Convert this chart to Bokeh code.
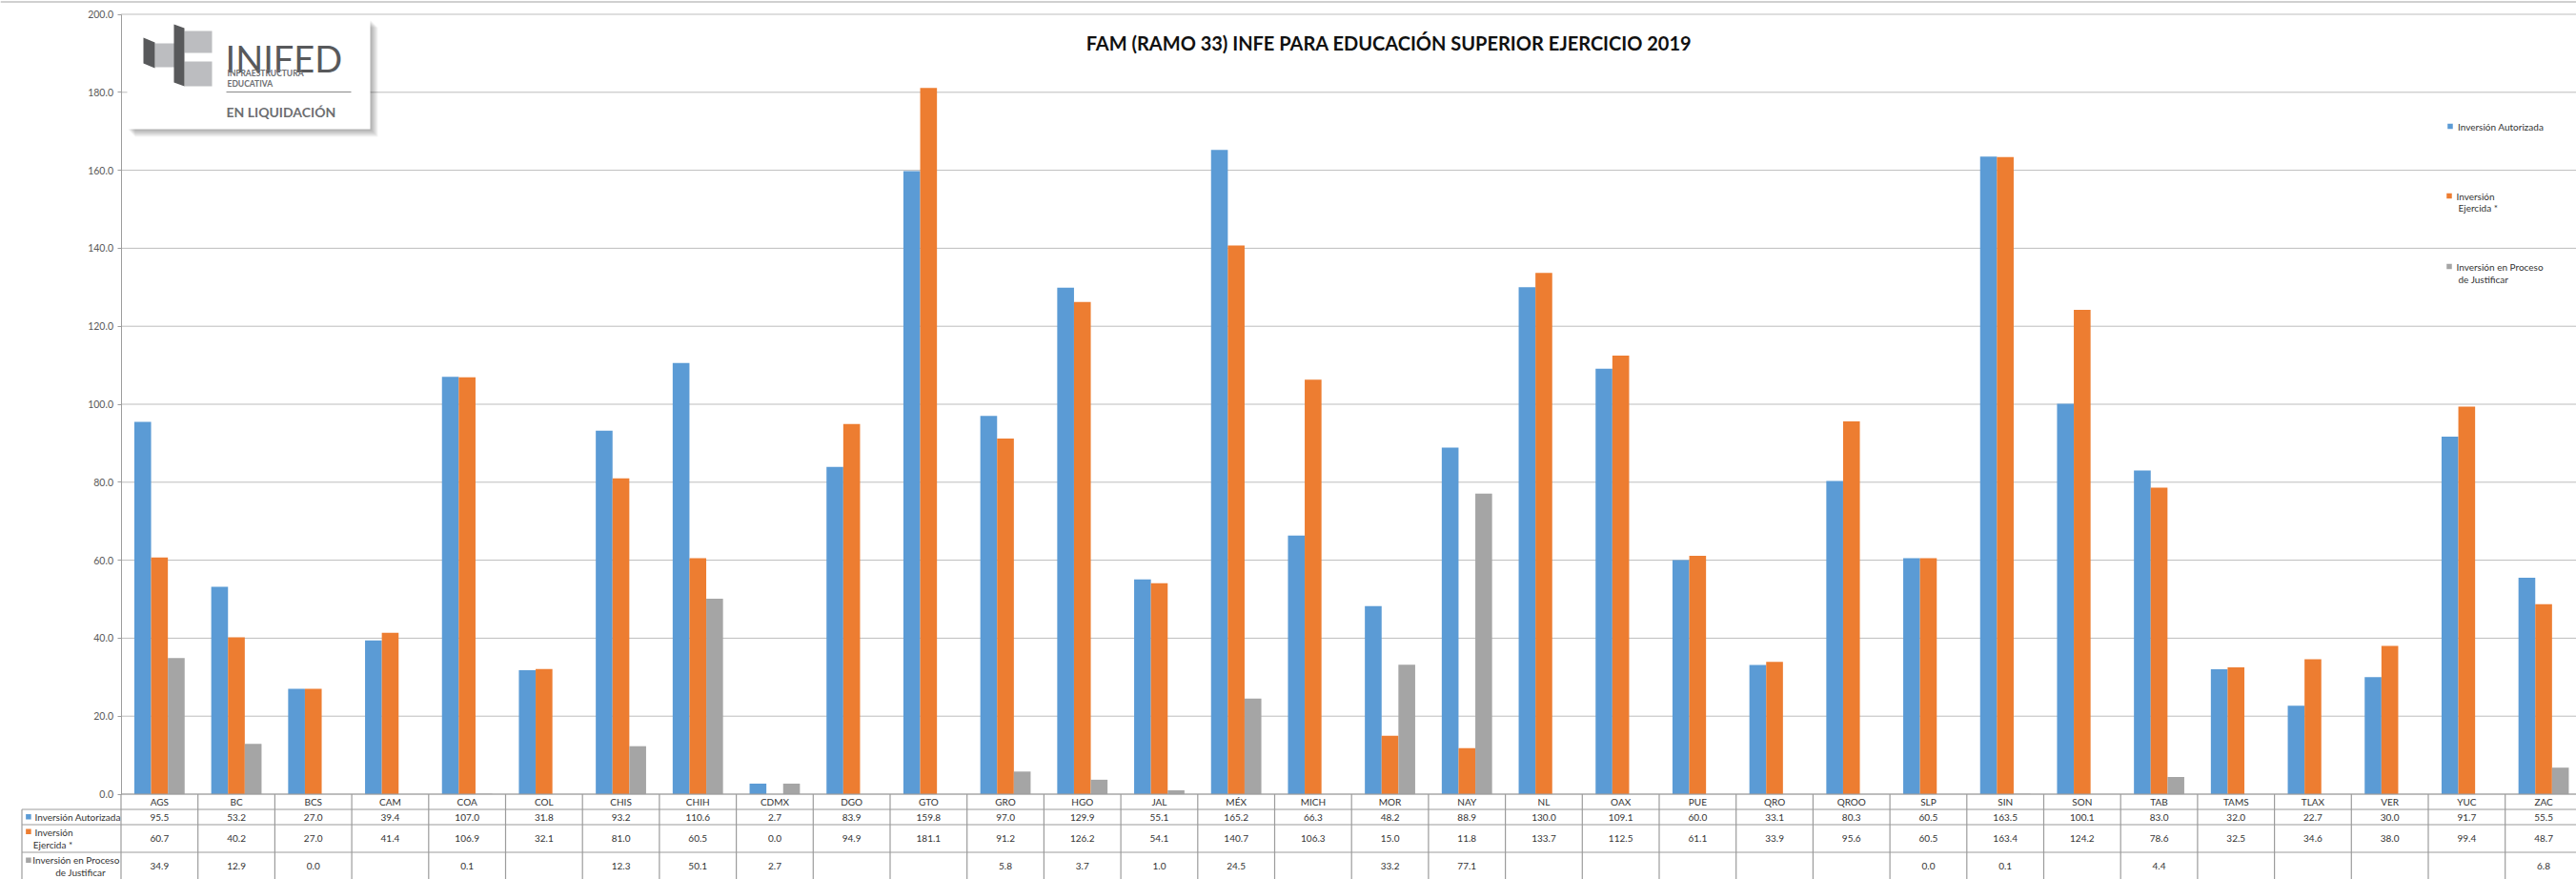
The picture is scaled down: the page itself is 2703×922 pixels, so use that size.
import math
from bokeh.plotting import figure
from bokeh.models import Range1d, LinearAxis, FixedTicker, NumeralTickFormatter, ColumnDataSource
from bokeh.transform import dodge
from bokeh.core.properties import value
from bokeh.embed import file_html
from bokeh.resources import INLINE

# ---------------- data ----------------
categories = ["AGS", "BC", "BCS", "CAM", "COA", "COL", "CHIS", "CHIH", "CDMX", "DGO", "GTO",
              "GRO", "HGO", "JAL", "MÉX", "MICH", "MOR", "NAY", "NL", "OAX", "PUE", "QRO",
              "QROO", "SLP", "SIN", "SON", "TAB", "TAMS", "TLAX", "VER", "YUC", "ZAC"]
autorizada = [95.5, 53.2, 27.0, 39.4, 107.0, 31.8, 93.2, 110.6, 2.7, 83.9, 159.8, 97.0, 129.9,
              55.1, 165.2, 66.3, 48.2, 88.9, 130.0, 109.1, 60.0, 33.1, 80.3, 60.5, 163.5, 100.1,
              83.0, 32.0, 22.7, 30.0, 91.7, 55.5]
ejercida = [60.7, 40.2, 27.0, 41.4, 106.9, 32.1, 81.0, 60.5, 0.0, 94.9, 181.1, 91.2, 126.2,
            54.1, 140.7, 106.3, 15.0, 11.8, 133.7, 112.5, 61.1, 33.9, 95.6, 60.5, 163.4, 124.2,
            78.6, 32.5, 34.6, 38.0, 99.4, 48.7]
proceso = [34.9, 12.9, 0.0, None, 0.1, None, 12.3, 50.1, 2.7, None, None, 5.8, 3.7, 1.0, 24.5,
           None, 33.2, 77.1, None, None, None, None, None, 0.0, 0.1, None, 4.4, None, None,
           None, None, 6.8]
series_labels = [["Inversión Autorizada"], ["Inversión", "Ejercida *"],
                 ["Inversión en Proceso", "de Justificar"]]
colors = ["#5B9BD5", "#ED7D31", "#A5A5A5"]
y_ticks = [0, 20, 40, 60, 80, 100, 120, 140, 160, 180, 200]
title_text = "FAM (RAMO 33) INFE PARA EDUCACIÓN SUPERIOR EJERCICIO 2019"

# ---------------- layout helpers (page pixel -> data) ----------------
W, H = 2703, 922
AX_X = 126.5          # page x of the value axis
COL = 80.7            # width of one category column in px
Y0 = 832.5            # page y of value 0
PPU = (832.5 - 14.5) / 200.0


def X(px):
    return (px - AX_X) / COL


def Y(py):
    return (Y0 - py) / PPU


FONT = value("Lato")
LINE = "#9c9c9c"
GRID = "#bdbdbd"
TXT = "#333333"

p = figure(width=W, height=H, output_backend="svg", toolbar_location=None,
           x_range=Range1d(X(0), X(W)), y_range=Range1d(Y(H), Y(0)),
           x_axis_location=None, y_axis_location=None, min_border=0,
           outline_line_color=None, background_fill_color="white")
p.grid.grid_line_color = None
p.grid.visible = False

n = len(categories)
x_idx = [i + 0.5 for i in range(n)]


def nz(v):
    return float("nan") if v is None else v


src = ColumnDataSource(dict(x=x_idx, cat=categories, a=autorizada, e=ejercida,
                            g=[nz(v) for v in proceso]))

# chart border (top) and gridlines
p.segment(x0=[X(0)], x1=[X(W + 5)], y0=[Y(1.5)], y1=[Y(1.5)], line_color="#c0c0c0", line_width=1.5)
p.segment(x0=0, x1=X(W + 5), y0=y_ticks, y1=y_ticks, line_color=GRID, line_width=1)

# value axis
yax = LinearAxis(fixed_location=0, bounds=(0, 200), ticker=FixedTicker(ticks=y_ticks),
                 formatter=NumeralTickFormatter(format="0.0"))
yax.axis_line_color = LINE
yax.major_tick_line_color = LINE
yax.major_tick_out = 4
yax.major_tick_in = 0
yax.minor_tick_line_color = None
yax.major_label_standoff = 4
yax.major_label_text_font = "Lato"
yax.major_label_text_font_size = "10.5px"
yax.major_label_text_color = "#595959"
p.add_layout(yax, "left")

# bars
BW = 17.6 / COL
for key, off, c in zip(["a", "e", "g"], [-BW, 0.0, BW], colors):
    p.vbar(x=dodge("x", off, range=p.x_range), top=key, width=BW, bottom=0,
           source=src, fill_color=c, line_color=None)

# ---------------- data table ----------------
right = X(W + 5)
tab_left = X(22.5)
row_tops = [832.5, 848.5, 864.5, 893.5]
p.segment(x0=[0, tab_left, tab_left, tab_left], x1=[right] * 4,
          y0=[Y(v) for v in row_tops], y1=[Y(v) for v in row_tops],
          line_color=LINE, line_width=1.2)
p.segment(x0=list(range(n + 1)), x1=list(range(n + 1)), y0=[0] * (n + 1),
          y1=[Y(H + 5)] * (n + 1), line_color=LINE, line_width=1.2)
p.segment(x0=[tab_left], x1=[tab_left], y0=[Y(848.5)], y1=[Y(H + 5)], line_color=LINE,
          line_width=1.2)

tfs = "10px"
p.text(x=x_idx, y=[Y(840.5)] * n, text=categories, text_align="center", text_baseline="middle",
       text_font=FONT, text_font_size=tfs, text_color=TXT)
for vals, yc in zip([autorizada, ejercida, proceso], [856.5, 879.3, 908.3]):
    p.text(x=x_idx, y=[Y(yc)] * n, text=["" if v is None else f"{v:.1f}" for v in vals],
           text_align="center", text_baseline="middle", text_font=FONT, text_font_size=tfs,
           text_color=TXT)

# row headers (series keys)
p.scatter(x=[X(29.4)] * 3, y=[Y(856.3), Y(871.7), Y(901.7)], marker="square", size=5.5,
          fill_color=colors, line_color=None)
p.text(x=[X(36), X(36), X(34.3), X(33.8), X(57.7)],
       y=[Y(856.3), Y(872.3), Y(885.5), Y(901.7), Y(914.0)],
       text=[series_labels[0][0], series_labels[1][0], series_labels[1][1],
             series_labels[2][0], series_labels[2][1]],
       text_align="left", text_baseline="middle", text_font=FONT, text_font_size=tfs,
       text_color=TXT)

# ---------------- legend (right) ----------------
p.scatter(x=[X(2570.5), X(2569.5), X(2569.5)], y=[Y(132), Y(205), Y(279)], marker="square",
          size=5.5, fill_color=colors, line_color=None)
p.text(x=[X(2578.5), X(2577), X(2579), X(2577), X(2579)],
       y=[Y(132), Y(205), Y(217.5), Y(279), Y(292.5)],
       text=[series_labels[0][0], series_labels[1][0], series_labels[1][1],
             series_labels[2][0], series_labels[2][1]],
       text_align="left", text_baseline="middle", text_font=FONT, text_font_size=tfs,
       text_color=TXT)

# ---------------- title ----------------
p.text(x=[X(1457)], y=[Y(44.5)], text=[title_text], text_align="center",
       text_baseline="alphabetic", text_font=FONT, text_font_style="bold",
       text_font_size="20px", text_color="#111111")

# ---------------- logo ----------------
for k in range(1, 9):
    p.quad(left=[X(133 + k)], right=[X(388 + k)], top=[Y(20 + k)], bottom=[Y(135 + k)],
           fill_color="black", fill_alpha=0.045, line_color=None)
p.quad(left=[X(133)], right=[X(388)], top=[Y(20)], bottom=[Y(135)], fill_color="white",
       line_color=None)
LIGHT, DARK = "#bcbdc0", "#58595b"
p.quad(left=[X(162), X(193), X(193)], right=[X(186), X(222), X(222)],
       top=[Y(45), Y(32), Y(64)], bottom=[Y(70), Y(55), Y(90)], fill_color=LIGHT, line_color=None)
p.patches(xs=[[X(150), X(162), X(162), X(150)], [X(182), X(193), X(193), X(182)]],
          ys=[[Y(39), Y(44), Y(71), Y(66)], [Y(25), Y(29), Y(90), Y(86)]],
          fill_color=DARK, line_color=None)
p.text(x=[X(236)], y=[Y(60)], text=["INIFED"], text_align="left", text_baseline="alphabetic",
       text_font=FONT, text_font_size="38px", text_color=DARK)
p.text(x=[X(238), X(238)], y=[Y(76), Y(87)], text=["INFRAESTRUCTURA", "EDUCATIVA"],
       text_align="left", text_baseline="alphabetic", text_font=FONT, text_font_style="bold",
       text_font_size="8.5px", text_color="#6d6e71")
p.segment(x0=[X(237)], x1=[X(368)], y0=[Y(96)], y1=[Y(96)], line_color="#8a8a8a", line_width=1)
p.text(x=[X(237)], y=[Y(117)], text=["EN LIQUIDACIÓN"], text_align="left",
       text_baseline="alphabetic", text_font=FONT, text_font_style="bold",
       text_font_size="14px", text_color="#6d6e71")

open("out.html", "w").write(file_html(p, INLINE))
